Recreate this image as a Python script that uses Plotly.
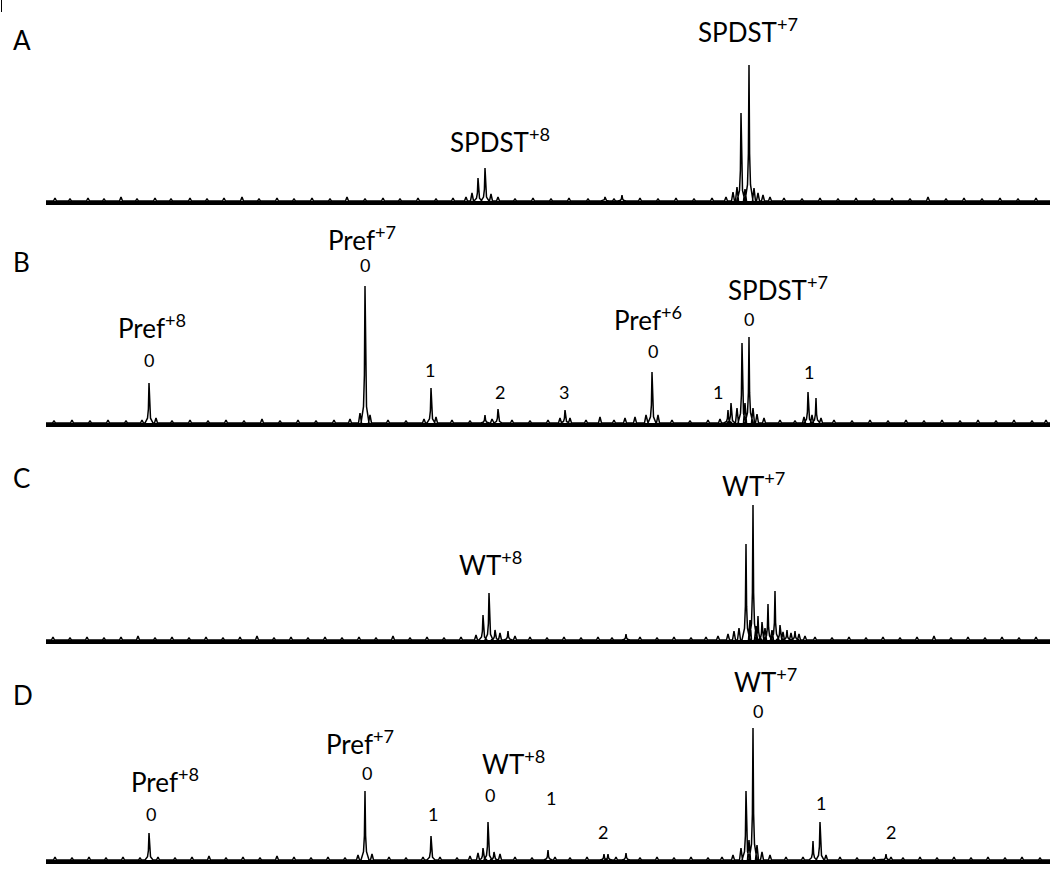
import plotly.graph_objects as go

# ---------------- data (x in m/z-like units along the axis, intensity in relative units) ----------------
A_peaks = [(478, 23), (485, 33), (605, 4), (622, 6), (741, 88), (749, 136)]
A_minor = [(55, 3), (70, 2), (88, 3), (104, 2), (121, 4), (137, 2), (155, 3), (171, 2), (190, 3), (207, 2),
           (224, 3), (242, 4), (259, 2), (277, 3), (294, 2), (312, 3), (330, 2), (347, 4), (365, 2), (383, 3),
           (400, 2), (418, 3), (436, 2), (453, 3), (466, 4), (472, 8), (491, 7), (498, 4), (515, 2), (533, 3),
           (551, 2), (569, 3), (588, 2), (614, 2), (640, 3), (658, 2), (676, 3), (694, 2), (712, 3), (726, 4),
           (733, 9), (737, 14), (745, 12), (754, 13), (758, 8), (763, 6), (770, 4), (784, 3), (802, 2), (820, 3),
           (838, 2), (856, 3), (874, 2), (892, 3), (910, 2), (928, 4), (946, 2), (964, 3), (982, 2), (1000, 3),
           (1018, 2), (1036, 3)]

B_peaks = [(149, 40), (365, 137), (431, 35), (485, 8), (498, 14), (565, 13), (652, 51), (728, 13), (731, 20),
           (742, 80), (749, 86), (808, 31), (816, 25)]
B_minor = [(54, 2), (72, 3), (90, 2), (108, 3), (126, 2), (142, 3), (156, 5), (172, 2), (190, 3), (208, 2),
           (226, 3), (244, 2), (262, 4), (280, 2), (298, 3), (316, 2), (334, 3), (350, 4), (360, 10), (370, 8),
           (388, 3), (406, 2), (424, 4), (436, 6), (452, 3), (470, 2), (492, 4), (512, 3), (530, 2), (548, 3),
           (560, 5), (570, 5), (586, 3), (600, 6), (614, 3), (625, 5), (635, 6), (646, 8), (658, 8), (672, 3),
           (690, 2), (708, 3), (720, 4), (737, 15), (745, 20), (753, 15), (757, 9), (764, 5), (780, 3), (795, 2),
           (804, 6), (812, 8), (821, 5), (834, 3), (852, 2), (870, 3), (888, 2), (906, 3), (924, 2), (942, 3),
           (960, 2), (978, 3), (996, 2), (1014, 3), (1032, 2), (1046, 3)]

C_peaks = [(483, 25), (489, 47), (495, 10), (508, 9), (626, 6), (746, 96), (753, 135), (758, 24), (762, 18),
           (768, 36), (775, 49), (780, 15), (787, 10), (795, 9)]
C_minor = [(53, 3), (70, 2), (87, 3), (104, 2), (121, 3), (138, 4), (155, 2), (172, 3), (189, 2), (206, 3),
           (223, 2), (240, 3), (257, 4), (274, 2), (291, 3), (308, 2), (325, 3), (342, 2), (359, 3), (376, 2),
           (393, 4), (410, 2), (427, 3), (444, 2), (461, 3), (476, 5), (500, 7), (515, 4), (530, 3), (547, 2),
           (564, 3), (581, 2), (598, 3), (612, 2), (640, 3), (657, 2), (674, 3), (691, 2), (706, 3), (718, 4),
           (728, 6), (734, 9), (739, 12), (750, 20), (756, 14), (765, 12), (772, 10), (783, 8), (791, 7), (799, 6),
           (805, 4), (815, 3), (832, 2), (849, 3), (866, 2), (883, 3), (900, 2), (917, 3), (934, 4), (951, 2),
           (968, 3), (985, 2), (1002, 3), (1019, 2), (1036, 3)]

D_peaks = [(149, 27), (365, 69), (431, 24), (483, 12), (488, 38), (494, 8), (548, 10), (604, 6), (608, 6),
           (626, 7), (746, 69), (753, 132), (813, 19), (820, 38), (886, 6)]
D_minor = [(55, 3), (72, 2), (89, 3), (106, 2), (123, 3), (140, 2), (158, 3), (175, 2), (192, 3), (209, 4),
           (226, 2), (243, 3), (260, 2), (277, 4), (294, 3), (311, 2), (328, 3), (345, 2), (358, 5), (372, 6),
           (389, 3), (406, 2), (423, 3), (440, 3), (457, 2), (470, 4), (478, 7), (500, 6), (515, 3), (532, 2),
           (555, 3), (570, 2), (587, 3), (616, 3), (640, 2), (657, 3), (674, 2), (691, 3), (708, 2), (722, 3),
           (733, 5), (741, 12), (749, 20), (757, 15), (762, 8), (770, 5), (786, 3), (803, 3), (826, 5), (840, 3),
           (857, 2), (874, 3), (891, 3), (903, 2), (920, 3), (937, 2), (954, 3), (971, 2), (988, 3), (1005, 2),
           (1022, 3), (1040, 2)]

# labels: (x, y above baseline, text, kind)
A_labels = [(748, 171, "SPDST<sup>+7</sup>", "big"), (500, 61, "SPDST<sup>+8</sup>", "big")]
B_labels = [(362, 185, "Pref<sup>+7</sup>", "big"), (365, 158, "0", "num"),
            (152, 97, "Pref<sup>+8</sup>", "big"), (149, 63, "0", "num"),
            (430, 53, "1", "num"), (500, 31, "2", "num"), (564, 31, "3", "num"),
            (648, 105, "Pref<sup>+6</sup>", "big"), (653, 72, "0", "num"),
            (718, 31, "1", "num"),
            (778, 135, "SPDST<sup>+7</sup>", "big"), (749, 104, "0", "num"),
            (809, 51, "1", "num")]
C_labels = [(753, 155, "WT<sup>+7</sup>", "big"), (490, 77, "WT<sup>+8</sup>", "big")]
D_labels = [(765, 180, "WT<sup>+7</sup>", "big"), (758, 149, "0", "num"),
            (360, 118, "Pref<sup>+7</sup>", "big"), (367, 87, "0", "num"),
            (513, 98, "WT<sup>+8</sup>", "big"), (490, 65, "0", "num"),
            (165, 80, "Pref<sup>+8</sup>", "big"), (151, 46, "0", "num"),
            (433, 46, "1", "num"), (551, 62, "1", "num"), (603, 28, "2", "num"),
            (821, 57, "1", "num"), (891, 28, "2", "num")]

panel_names = ["A", "B", "C", "D"]
panel_peaks = [A_peaks, B_peaks, C_peaks, D_peaks]
panel_minor = [A_minor, B_minor, C_minor, D_minor]
panel_labels = [A_labels, B_labels, C_labels, D_labels]

# ---------------- layout constants ----------------
W, H = 1050, 874
XMIN, XMAX = 46, 1050
baselines_px = [201, 423, 640, 860]
letter_px = [40, 262, 478, 695]
PANEL_H = 200
FONT = "Lato, 'Open Sans', sans-serif"

PEAK_DX = [-4, -1.5, -0.6, 0, 0.6, 1.5, 4]
PEAK_FR = [0, 0.12, 0.35, 1, 0.35, 0.12, 0]
MINOR_DX = [-1.5, 0, 1.5]
MINOR_FR = [0, 1, 0]


def spectrum_path(peaks, minor):
    items = [(x, h, PEAK_DX, PEAK_FR) for x, h in peaks] + [(x, h, MINOR_DX, MINOR_FR) for x, h in minor]
    items.sort(key=lambda t: t[0])
    xs, ys = [XMIN], [0]
    for x, h, dxs, frs in items:
        xs += [x + d for d in dxs]
        ys += [h * f for f in frs]
    xs.append(XMAX)
    ys.append(0)
    return xs, ys


fig = go.Figure()
annotations = []
layout_axes = {}
for i in range(4):
    sfx = "" if i == 0 else str(i + 1)
    xs, ys = spectrum_path(panel_peaks[i], panel_minor[i])
    fig.add_trace(go.Scatter(x=xs, y=ys, mode="lines", line=dict(color="black", width=1.5),
                             xaxis="x" + sfx, yaxis="y" + sfx, showlegend=False, hoverinfo="skip"))
    b = baselines_px[i]
    dom = [(H - b) / H, (H - b + PANEL_H) / H]
    layout_axes["xaxis" + sfx] = dict(range=[XMIN, XMAX], domain=[XMIN / W, 1], showgrid=False,
                                      zeroline=False, showticklabels=False, ticks="",
                                      showline=True, linecolor="black", linewidth=3.5,
                                      anchor="y" + sfx, fixedrange=True)
    layout_axes["yaxis" + sfx] = dict(range=[0, PANEL_H], domain=dom, visible=False,
                                      anchor="x" + sfx, fixedrange=True)
    for (lx, ly, txt, kind) in panel_labels[i]:
        annotations.append(dict(x=lx, y=ly, xref="x" + sfx, yref="y" + sfx, text=txt, showarrow=False,
                                xanchor="center", yanchor="middle",
                                font=dict(family=FONT, size=26 if kind == "big" else 18, color="black")))
    annotations.append(dict(x=11 / W, y=1 - letter_px[i] / H, xref="paper", yref="paper",
                            text=panel_names[i], showarrow=False, xanchor="left", yanchor="middle",
                            font=dict(family=FONT, size=26, color="black")))

fig.update_layout(width=W, height=H, margin=dict(l=0, r=0, t=0, b=0),
                  paper_bgcolor="white", plot_bgcolor="white",
                  annotations=annotations, **layout_axes,
                  shapes=[dict(type="line", xref="paper", yref="paper", x0=1.5 / W, x1=1.5 / W,
                               y0=1, y1=1 - 12 / H, line=dict(color="black", width=1))])
fig.write_html("out.html", config={"displayModeBar": False},
               post_script="document.body.style.margin='0px';")
